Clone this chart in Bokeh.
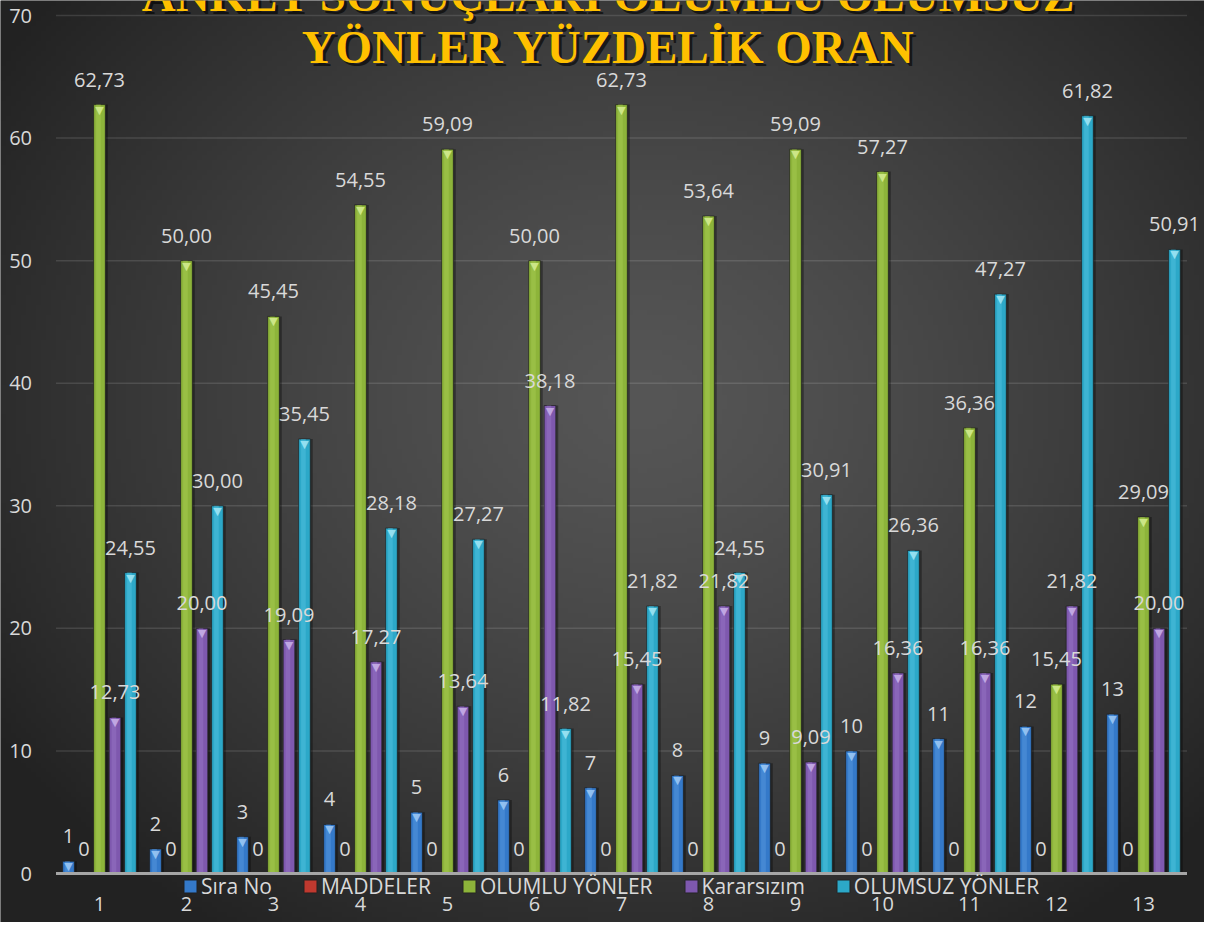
import numpy as np
from bokeh.plotting import figure
from bokeh.models import (ColumnDataSource, Range1d, FixedTicker, Legend, LegendItem, Label)
from bokeh.transform import dodge
from bokeh.core.properties import value
from bokeh.embed import file_html
from bokeh.resources import INLINE

# ---------------- data ----------------
groups = [1, 2, 3, 4, 5, 6, 7, 8, 9, 10, 11, 12, 13]
sira_no = [1, 2, 3, 4, 5, 6, 7, 8, 9, 10, 11, 12, 13]
maddeler = [0, 0, 0, 0, 0, 0, 0, 0, 0, 0, 0, 0, 0]
olumlu = [62.73, 50.00, 45.45, 54.55, 59.09, 50.00, 62.73, 53.64, 59.09, 57.27, 36.36, 15.45, 29.09]
kararsiz = [12.73, 20.00, 19.09, 17.27, 13.64, 38.18, 15.45, 21.82, 9.09, 16.36, 16.36, 21.82, 20.00]
olumsuz = [24.55, 30.00, 35.45, 28.18, 27.27, 11.82, 21.82, 24.55, 30.91, 26.36, 47.27, 61.82, 50.91]
series_names = ["Sıra No", "MADDELER", "OLUMLU YÖNLER", "Kararsızım", "OLUMSUZ YÖNLER"]
y_ticks = [0, 10, 20, 30, 40, 50, 60, 70]
title_lines = ["ANKET SONUÇLARI OLUMLU OLUMSUZ", "YÖNLER YÜZDELİK ORAN"]

# ---------------- styling ----------------
colors = ["#3479C9", "#C0392F", "#8DB43A", "#7E58AE", "#2CA8C8"]
hilite = ["#5C9BE0", "#E06050", "#A8CC55", "#9A78C8", "#55C4E0"]
caps = ["#9CC8F5", "#F0A090", "#D4EC90", "#C8B0E8", "#A0E6F5"]
offsets = [-0.356, -0.178, 0.0, 0.178, 0.356]
bar_w = 0.134
label_color = "#D9D9D9"
FONT = "Open Sans"

def fmt_dec(v):
    return f"{v:.2f}".replace(".", ",")

src = ColumnDataSource(dict(
    x=groups,
    s0=sira_no, s1=maddeler, s2=olumlu, s3=kararsiz, s4=olumsuz,
    l0=[str(v) for v in sira_no], l1=[str(v) for v in maddeler],
    l2=[fmt_dec(v) for v in olumlu], l3=[fmt_dec(v) for v in kararsiz],
    l4=[fmt_dec(v) for v in olumsuz],
))

W, H = 1204, 922
LEFT = 55.5          # pixel where the category span starts
AXIS_Y = 873         # pixel of value 0
PX_PER_X = 87.0
PX_PER_Y = 12.257
X0 = 0.5 - LEFT / PX_PER_X
X1 = X0 + W / PX_PER_X
Y_TOP = AXIS_Y / PX_PER_Y
Y_BOT = -(H - AXIS_Y) / PX_PER_Y

p = figure(frame_width=W, frame_height=H,
           x_range=Range1d(X0, X1), y_range=Range1d(Y_BOT, Y_TOP),
           output_backend="svg", toolbar_location=None,
           min_border_left=0, min_border_right=0, min_border_top=0, min_border_bottom=0)
p.border_fill_color = "#2a2a2a"
p.background_fill_color = "#3a3a3a"
p.outline_line_color = None

# radial background gradient over the whole canvas
ny, nx = 185, 240
yy, xx = np.mgrid[0:ny, 0:nx]
px_x = (xx + 0.5) / nx * W
px_y = H - (yy + 0.5) / ny * H      # row 0 at bottom
cx, cy = 640, 400
d = np.sqrt(((px_x - cx) / 720.0) ** 2 + ((px_y - cy) / 600.0) ** 2)
t = np.clip(d, 0, 1.15) ** 1.3
c_in, c_out = 86, 38
g = np.clip(c_in + (c_out - c_in) * t, 34, 255).astype(np.uint32)
img = (255 << 24) | (g << 16) | (g << 8) | g
bg = p.image_rgba(image=[img.astype(np.uint32)], x=X0, y=Y_BOT, dw=X1 - X0, dh=Y_TOP - Y_BOT)
bg.level = "image"

# horizontal gridlines limited to the category span
p.xgrid.visible = False
p.ygrid.visible = False
gl = p.segment(x0=[0.5] * len(y_ticks[1:]), x1=[13.5] * len(y_ticks[1:]),
               y0=y_ticks[1:], y1=y_ticks[1:], line_color="#FFFFFF", line_alpha=0.12, line_width=1.5)
gl.level = "underlay"

p.yaxis.fixed_location = 0.5
p.yaxis.ticker = FixedTicker(ticks=y_ticks)
p.yaxis.axis_line_color = None
p.yaxis.major_tick_line_color = None
p.yaxis.minor_tick_line_color = None
p.yaxis.major_label_text_color = label_color
p.yaxis.major_label_text_font = FONT
p.yaxis.major_label_text_font_size = "20px"
p.yaxis.major_label_standoff = 18

p.xaxis.fixed_location = 0
p.xaxis.ticker = FixedTicker(ticks=groups)
p.xaxis.axis_line_color = None
p.xaxis.major_tick_line_color = None
p.xaxis.minor_tick_line_color = None
p.xaxis.major_label_text_color = label_color
p.xaxis.major_label_text_font = FONT
p.xaxis.major_label_text_font_size = "20px"
p.xaxis.major_label_standoff = 17

# bars
legend_items = []
for i, name in enumerate(series_names):
    col = f"s{i}"
    p.vbar(x=dodge("x", offsets[i] + 0.018, range=p.x_range), top=col, width=bar_w + 0.02,
           source=src, fill_color="#000000", fill_alpha=0.35, line_color=None)
    main = p.vbar(x=dodge("x", offsets[i], range=p.x_range), top=col, width=bar_w,
                  source=src, fill_color=colors[i], line_color="#1E1E1E", line_alpha=0.7, line_width=1)
    p.vbar(x=dodge("x", offsets[i] - 0.012, range=p.x_range), top=col, width=bar_w * 0.4,
           source=src, fill_color=hilite[i], fill_alpha=0.45, line_color=None)
    legend_items.append(LegendItem(label=name, renderers=[main]))

# axis line along the category span
p.segment(x0=[0.5], x1=[13.5], y0=[0], y1=[0], line_color="#A6A6A6", line_width=3)

# top caps (only for non-zero bars)
for i in range(5):
    vals = src.data[f"s{i}"]
    cx_list = [g_ for g_, v in zip(groups, vals) if v > 0]
    cy_list = [v for v in vals if v > 0]
    if cx_list:
        csrc = ColumnDataSource(dict(x=cx_list, y=cy_list, t=["▼"] * len(cx_list)))
        p.text(x=dodge("x", offsets[i], range=p.x_range), y="y", text="t", source=csrc,
               text_align="center", text_baseline="top", y_offset=-1,
               text_font=value("DejaVu Sans"), text_font_size="11px",
               text_color=caps[i], text_alpha=0.9)

# data labels
for i in range(5):
    p.text(x=dodge("x", offsets[i], range=p.x_range), y=f"s{i}", text=f"l{i}", source=src,
           text_align="center", text_baseline="middle", y_offset=-25,
           text_font=value(FONT), text_font_size="20px", text_color=label_color)

# legend just below the axis line
legend = Legend(items=legend_items, orientation="horizontal", location=(182, 22),
                glyph_width=16, glyph_height=16, label_standoff=3, spacing=30,
                padding=0, margin=0, background_fill_alpha=0, border_line_alpha=0,
                label_text_color=label_color, label_text_font=FONT,
                label_text_font_size="21px", label_height=20)
p.add_layout(legend, "center")

# title (two lines with shadow)
title_base = [10, 62]   # baselines, px from top
for line, tb in zip(title_lines, title_base):
    ty = H - tb + 16
    p.add_layout(Label(x=608 + 3, y=ty - 3, x_units="screen", y_units="screen", text=line,
                       text_align="center", text_baseline="alphabetic",
                       text_font="Liberation Serif", text_font_style="bold",
                       text_font_size="47px", text_color="#000000", text_alpha=0.6))
    p.add_layout(Label(x=608, y=ty, x_units="screen", y_units="screen", text=line,
                       text_align="center", text_baseline="alphabetic",
                       text_font="Liberation Serif", text_font_style="bold",
                       text_font_size="47px", text_color="#FFC000"))

open("out.html", "w").write(file_html(p, INLINE))
